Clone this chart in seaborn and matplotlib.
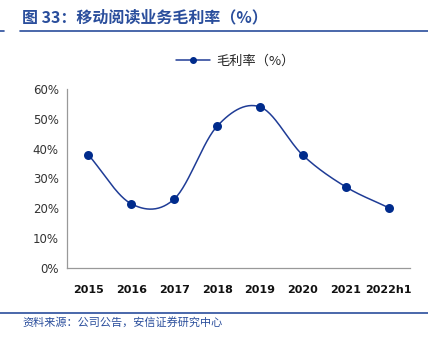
import numpy as np
import pandas as pd
import matplotlib
matplotlib.use("Agg")
import matplotlib.pyplot as plt
import seaborn as sns
from matplotlib.lines import Line2D

sns.set_theme(style="white")
plt.rcParams['font.family'] = ['Noto Sans CJK SC', 'DejaVu Sans']

years = ["2015", "2016", "2017", "2018", "2019", "2020", "2021", "2022h1"]
margin = [37.9, 21.5, 23.1, 47.5, 54.0, 37.8, 27.2, 20.2]
yticks = [0, 10, 20, 30, 40, 50, 60]
series_name = "毛利率（%）"

df = pd.DataFrame({"year": years, "margin": margin, "x": np.arange(len(years))})

fig = plt.figure(figsize=(4.28, 3.45), dpi=100)
ax = fig.add_axes([0.1565, 0.2232, 0.8015, 0.519])

# smooth curve (Catmull-Rom through the data points)
def catmull(xs, ys, n=30):
    xs = np.asarray(xs, float); ys = np.asarray(ys, float)
    px = np.concatenate([[2*xs[0]-xs[1]], xs, [2*xs[-1]-xs[-2]]])
    py = np.concatenate([[2*ys[0]-ys[1]], ys, [2*ys[-1]-ys[-2]]])
    ox, oy = [], []
    for i in range(1, len(px)-2):
        t = np.linspace(0, 1, n, endpoint=False)
        for arr, out in ((px, ox), (py, oy)):
            p0, p1, p2, p3 = arr[i-1], arr[i], arr[i+1], arr[i+2]
            out.extend(0.5*((2*p1) + (-p0+p2)*t + (2*p0-5*p1+4*p2-p3)*t**2 + (-p0+3*p1-3*p2+p3)*t**3))
    ox.append(xs[-1]); oy.append(ys[-1])
    return np.array(ox), np.array(oy)

line_color = "#1F3C96"
mk_color = "#002B8C"
sx, sy = catmull(df["x"], df["margin"])
ax.plot(sx, sy, color=line_color, lw=1.1, zorder=2)
sns.scatterplot(data=df, x="x", y="margin", ax=ax, color=mk_color, s=42,
                edgecolor=mk_color, linewidth=0, zorder=3, legend=False)

ax.set_xlim(-0.5, len(years)-0.5)
ax.set_ylim(0, 60)
ax.set_yticks(yticks)
ax.set_yticklabels([f"{v}%" for v in yticks], fontsize=8.5, color="#333333",
                   family=['DejaVu Sans'])
ax.set_xticks(np.arange(len(years)))
ax.set_xticklabels(years, fontsize=8, fontweight="bold", color="#111111",
                   family=['DejaVu Sans'])
ax.set_xticks(np.arange(-0.5, len(years)), minor=True)
ax.tick_params(axis="x", which="major", length=0, pad=12)
ax.tick_params(axis="x", which="minor", length=4, color="#999999", direction="out", width=0.8)
ax.tick_params(axis="y", length=4, color="#999999", direction="out", width=0.8, pad=2)
ax.set_xlabel(""); ax.set_ylabel("")
for s in ["top", "right"]:
    ax.spines[s].set_visible(False)
for s in ["left", "bottom"]:
    ax.spines[s].set_color("#999999")
    ax.spines[s].set_linewidth(0.9)

h = Line2D([], [], color=line_color, lw=1.1, marker="o", markersize=4,
           markerfacecolor=mk_color, markeredgecolor=mk_color)
fig.legend([h], [series_name], loc="center", bbox_to_anchor=(0.55, 0.822),
           frameon=False, fontsize=9.5, handlelength=2.6, handletextpad=0.5)

# title and decorations
title_color = "#2A4E9C"
fig.text(22/428, 1-17/345, "图 33：移动阅读业务毛利率（%）", fontsize=11.5,
         fontweight="bold", color=title_color, va="center", ha="left")
fig.add_artist(Line2D([20/428, 1], [1-30.5/345]*2, color=title_color, lw=1.2))
fig.add_artist(Line2D([0, 4/428], [1-30.5/345]*2, color=title_color, lw=1.2))
fig.add_artist(Line2D([0, 1], [1-312.5/345]*2, color=title_color, lw=1.2))
fig.text(22/428, 1-322/345, "资料来源：公司公告，安信证券研究中心", fontsize=8,
         style="italic", color=title_color, va="center", ha="left")

fig.savefig("out.png", dpi=100)
